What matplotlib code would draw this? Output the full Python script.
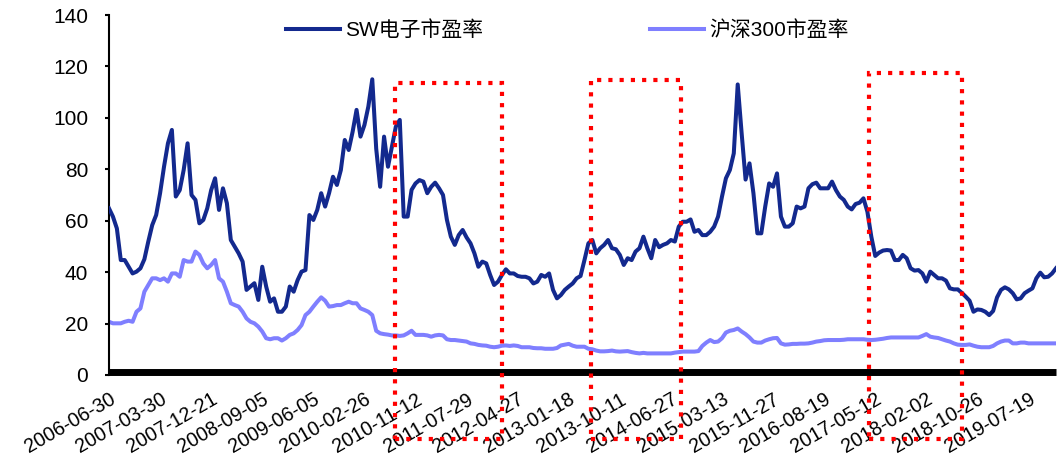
import numpy as np
import matplotlib
matplotlib.use("Agg")
import matplotlib.pyplot as plt
from matplotlib.patches import Rectangle

plt.rcParams['font.family'] = ['Liberation Sans', 'Noto Sans CJK SC', 'DejaVu Sans']

# Weekly P/E readings, one value every 3 trading weeks from 2006-06-30
series_names = ["SW电子市盈率", "沪深300市盈率"]

sw_electronics_pe = [
    64.8, 61.6, 57.0, 44.7, 44.7, 42.1, 39.5, 40.2, 41.5, 45.0, 51.9, 58.3, 62.2, 70.7, 81.0, 90.1, 95.3, 69.4, 71.9, 79.7,
    90.1, 70.0, 68.1, 59.0, 60.3, 64.8, 71.9, 76.5, 64.2, 72.6, 66.8, 52.5, 49.9, 47.3, 44.1, 33.1, 34.4, 35.7, 29.2, 42.1,
    34.4, 28.5, 29.8, 24.6, 24.6, 26.6, 34.4, 32.4, 36.9, 40.2, 40.8, 62.2, 60.3, 64.2, 70.7, 65.5, 70.7, 77.1, 73.9, 79.7,
    91.4, 87.5, 94.6, 103.1, 92.7, 97.2, 104.4, 115.0, 88.0, 73.2, 92.7, 81.0, 88.8, 96.6, 99.2, 61.6, 61.6, 72.0, 74.5, 75.8, 75.2,
    70.7, 73.2, 74.8, 72.6, 70.0, 60.3, 53.8, 50.6, 54.4, 56.4, 53.5, 51.2, 47.3, 42.1, 44.1, 43.4, 38.9, 35.0, 36.3, 38.9,
    41.1, 39.5, 39.5, 38.5, 38.2, 38.2, 37.6, 35.6, 36.3, 38.9, 38.2, 39.5, 33.1, 29.8, 31.1, 33.1, 34.4, 35.6, 37.6, 38.5, 44.7,
    51.2, 52.5, 47.3, 49.3, 50.6, 52.5, 49.3, 48.9, 46.7, 42.8, 45.4, 44.7, 48.0, 49.3, 53.8, 49.3, 45.4, 52.5, 49.7, 50.6,
    51.2, 52.5, 51.9, 57.7, 59.6, 59.6, 60.5, 55.7, 56.4, 54.4, 54.4, 55.7, 57.7, 61.6, 69.4, 76.5, 79.7, 86.2, 113.0, 94.0,
    76.0, 82.3, 70.7, 55.1, 55.1, 65.5, 74.5, 73.2, 78.4, 61.6, 57.7, 57.7, 59.0, 65.5, 64.8, 65.5, 72.6, 74.2, 74.8, 72.6,
    72.6, 72.6, 75.2, 71.9, 69.4, 68.1, 65.5, 64.4, 66.5, 67.0, 68.7, 63.5, 53.8, 46.3, 47.6, 48.4, 48.6, 48.4, 44.7, 44.7, 46.7,
    45.4, 41.5, 40.6, 40.8, 39.5, 36.3, 40.2, 38.9, 37.6, 37.6, 36.7, 33.7, 33.3, 33.3, 32.0, 30.5, 28.9, 24.6, 25.5, 25.3,
    24.6, 23.3, 24.9, 30.2, 33.1, 34.1, 33.3, 31.8, 29.4, 29.8, 31.8, 32.8, 33.7, 37.6, 39.8, 38.0, 38.2, 39.5, 41.5,
]

csi300_pe = [
    20.7, 20.1, 20.1, 20.1, 20.7, 21.1, 20.7, 24.6, 25.9, 32.4, 35.0, 37.6, 37.6, 36.9, 37.6, 36.3, 39.5, 39.5, 38.2, 44.7,
    44.1, 44.1, 48.0, 46.7, 43.4, 41.5, 42.8, 44.7, 37.6, 36.3, 32.4, 27.9, 27.2, 26.6, 24.6, 22.0, 20.7, 20.1, 18.8, 16.9,
    14.3, 13.9, 14.3, 14.3, 13.4, 14.3, 15.6, 16.2, 17.5, 19.4, 23.3, 24.6, 26.6, 28.5, 30.2, 28.9, 26.6, 26.8, 27.2, 27.2,
    27.9, 28.5, 27.9, 27.9, 25.9, 25.3, 24.6, 23.3, 17.2, 16.2, 15.9, 15.7, 15.4, 15.4, 15.2, 15.4, 16.2, 17.2, 15.6, 15.6, 15.6,
    15.4, 14.9, 15.4, 15.6, 15.4, 13.9, 13.6, 13.6, 13.4, 13.2, 13.0, 12.3, 12.1, 11.7, 11.5, 11.4, 11.0, 10.8, 11.0, 11.4,
    11.5, 11.3, 11.5, 11.3, 10.8, 10.8, 10.8, 10.5, 10.4, 10.4, 10.2, 10.2, 10.2, 10.5, 11.5, 11.8, 12.1, 11.4, 11.0, 11.0, 11.0,
    10.2, 10.0, 9.5, 9.2, 9.2, 9.3, 9.5, 9.2, 9.1, 9.2, 9.3, 8.9, 8.6, 8.4, 8.6, 8.4, 8.4, 8.4, 8.4, 8.4,
    8.4, 8.4, 8.7, 8.9, 9.1, 9.1, 9.1, 9.1, 9.3, 11.3, 12.6, 13.6, 12.8, 13.0, 14.3, 16.5, 17.2, 17.5, 18.1, 16.9,
    15.9, 14.6, 13.0, 12.6, 12.6, 13.4, 13.9, 14.3, 14.4, 12.3, 11.8, 11.9, 12.1, 12.1, 12.2, 12.2, 12.3, 12.6, 13.0, 13.2,
    13.5, 13.6, 13.6, 13.6, 13.6, 13.7, 13.9, 13.9, 13.9, 13.9, 13.9, 13.7, 13.6, 13.7, 13.9, 14.1, 14.4, 14.6, 14.6, 14.6, 14.6,
    14.6, 14.6, 14.6, 14.6, 15.2, 15.9, 14.9, 14.6, 14.4, 13.9, 13.4, 13.0, 12.3, 11.8, 11.7, 11.7, 11.9, 11.4, 11.0, 10.8,
    10.8, 10.8, 11.3, 12.3, 13.0, 13.4, 13.4, 12.3, 12.3, 12.6, 12.6, 12.3, 12.3, 12.3, 12.3, 12.3, 12.3, 12.3, 12.3,
]

tick_labels = [
    "2006-06-30", "2007-03-30", "2007-12-21", "2008-09-05", "2009-06-05", "2010-02-26",
    "2010-11-12", "2011-07-29", "2012-04-27", "2013-01-18", "2013-10-11", "2014-06-27",
    "2015-03-13", "2015-11-27", "2016-08-19", "2017-05-12", "2018-02-02", "2018-10-26",
    "2019-07-19",
]

# Highlighted periods: (start week, end week)
highlight_weeks = [(218, 300), (368, 437), (580, 651)]
highlight_tops = [113.6, 114.7, 117.5]

SAMPLE_STEP = 3      # weeks between stored readings
TICK_STEP = 39       # weeks between date labels

dark_blue = "#13298E"
light_blue = "#7F7FFF"

fig = plt.figure(figsize=(10.64, 4.65), dpi=100)
ax = fig.add_axes([109 / 1064, 1 - 375 / 465, (1056 - 109) / 1064, 360 / 465])

# Spine placement first: repositioning a spine resets its axis tick settings
for side in ('top', 'right'):
    ax.spines[side].set_visible(False)
ax.spines['left'].set_linewidth(1.5)
ax.spines['bottom'].set_position(('data', 1.3))
ax.spines['bottom'].set_linewidth(5)
ax.spines['bottom'].set_capstyle('butt')

x_sw = np.arange(len(sw_electronics_pe)) * SAMPLE_STEP
x_hs = np.arange(len(csi300_pe)) * SAMPLE_STEP
ax.plot(x_sw, sw_electronics_pe, color=dark_blue, lw=2.9, label=series_names[0],
        solid_joinstyle='round', zorder=3)
ax.plot(x_hs, csi300_pe, color=light_blue, lw=2.9, label=series_names[1],
        solid_joinstyle='round', zorder=2)

ax.set_xlim(0, x_sw[-1])
ax.set_ylim(0, 140)
ax.set_yticks(np.arange(0, 141, 20))
ax.tick_params(axis='y', labelsize=15, length=3, width=1.5, pad=12, direction='out')

ax.set_xticks(np.arange(len(tick_labels)) * TICK_STEP)
ax.set_xticklabels(tick_labels, rotation=30, ha='right', va='top',
                   rotation_mode='anchor', fontsize=14.2)
ax.tick_params(axis='x', length=0, pad=13)

for (x0, x1), top in zip(highlight_weeks, highlight_tops):
    rect = Rectangle((x0, -25), x1 - x0, top + 25, fill=False, edgecolor='#FF0000',
                     lw=3, linestyle=(0, (1, 1.7)), clip_on=False, zorder=5)
    ax.add_patch(rect)

leg = ax.legend(loc='center', bbox_to_anchor=(0.484, 0.958), ncol=2, frameon=False,
                fontsize=15, handlelength=2.6, handletextpad=0.25, columnspacing=8.0)

fig.savefig("out.png", dpi=100)
